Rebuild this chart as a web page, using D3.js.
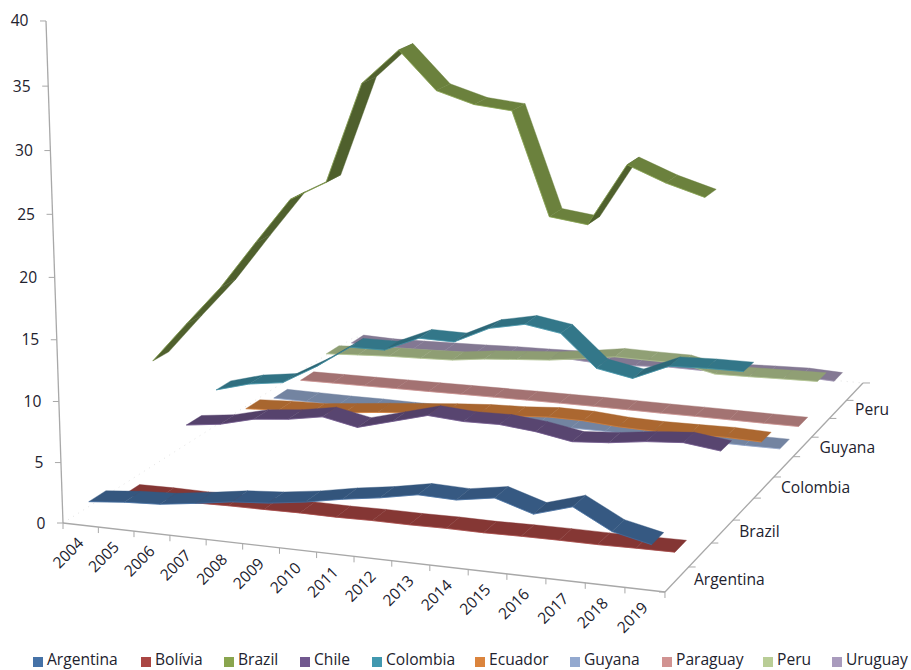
<!DOCTYPE html>
<html>
<head>
<meta charset="utf-8">
<script src="https://cdn.jsdelivr.net/npm/d3@7"></script>
<style>
html,body{margin:0;padding:0;background:#fff}
svg{display:block}
text{font-family:"Open Sans",sans-serif;fill:#22222e}
</style>
</head>
<body>
<svg id="chart" width="911" height="670"></svg>
<script>
const years = ["2004","2005","2006","2007","2008","2009","2010","2011","2012","2013","2014","2015","2016","2017","2018","2019"];
const countries = ["Argentina","Bolívia","Brazil","Chile","Colombia","Ecuador","Guyana","Paraguay","Peru","Uruguay"];
const depthLabels = ["Argentina","Brazil","Colombia","Guyana","Peru"];
const palette = ["#4572a7","#aa4643","#89a54e","#71588f","#4198af","#db843d","#93a9cf","#d19392","#b9cd96","#a99bbd"];

const argentina = [1.48,1.76,1.92,2.32,2.77,3.0,3.41,3.97,4.41,4.98,4.89,5.38,4.43,5.34,3.73,3.04];
const bolivia   = [0.20,0.24,0.22,0.29,0.31,0.35,0.33,0.38,0.37,0.41,0.39,0.44,0.46,0.45,0.50,0.53];
const brazil    = [9.9,13.3,16.6,20.5,24.3,25.9,34.0,36.8,33.8,32.9,32.6,24.5,24.1,29.0,27.8,26.9];
const chile     = [2.75,3.12,3.86,4.15,4.66,4.05,4.86,5.67,5.45,5.5,5.2,4.66,4.88,5.28,5.5,5.11];
const colombia  = [4.2,5.01,5.42,7.1,9.08,9.1,10.4,10.35,11.78,12.39,11.89,9.2,8.63,9.94,10.04,10.05];
const ecuador   = [0.87,1.03,1.1,1.39,1.71,1.98,2.26,2.47,2.58,2.79,2.76,2.53,2.45,2.48,2.53,2.42];
const guyana    = [0.20,0.18,0.15,0.17,0.14,0.16,0.13,0.15,0.12,0.14,0.13,0.11,0.12,0.13,0.10,0.10];
const paraguay  = [0.25,0.28,0.30,0.33,0.35,0.38,0.40,0.42,0.43,0.44,0.42,0.40,0.41,0.39,0.38,0.38];
const peru      = [1.19,1.36,1.51,1.59,1.7,2.07,2.31,2.53,2.93,3.39,3.34,3.32,2.63,2.68,2.75,2.81];
const uruguay   = [0.7,0.6,0.65,0.73,0.81,0.92,0.97,1.05,0.88,0.98,1.15,1.11,1.18,1.29,1.37,1.23];
const seriesValues = [argentina,bolivia,brazil,chile,colombia,ecuador,guyana,paraguay,peru,uruguay];

// Unit-cube coordinates: u runs along the years, v into the depth, h up the value axis.
const uScale = d3.scaleBand().domain(years).range([0,1]);
const vScale = d3.scaleBand().domain(countries).range([0,1]);
const hScale = d3.scaleLinear().domain([0,40]).range([0,1]);
const ribbonDepth = vScale.bandwidth()/2;

// Perspective camera expressed as a homogeneous 3x4 matrix.
const camera = {
  x:[559.4,365.7,-18.93,63],
  y:[31.1,-115.6,-502.9,523],
  w:[-0.064,0.209,-0.042,1]
};
function project(u,v,h){
  const w = camera.w[0]*u+camera.w[1]*v+camera.w[2]*h+camera.w[3];
  return [
    (camera.x[0]*u+camera.x[1]*v+camera.x[2]*h+camera.x[3])/w,
    (camera.y[0]*u+camera.y[1]*v+camera.y[2]*h+camera.y[3])/w
  ];
}

const svg = d3.select("#chart");
const linePath = d3.line();
const axisColor = "#a8a8a8";
const labelSize = 15.6;

const axes = svg.append("g").attr("fill","none").attr("stroke",axisColor);

// Faint floor outline on the far sides
axes.append("path")
  .attr("d",linePath([project(0,0,0),project(0,1,0),project(1,1,0)]))
  .attr("stroke","#e4e4e4").attr("stroke-dasharray","1 5");

// Value axis
axes.append("path").attr("stroke-width",1.3).attr("d",linePath([project(0,0,0),project(0,0,1)]));
hScale.ticks(8).forEach(t=>{
  const p = project(0,0,hScale(t));
  axes.append("path").attr("d",linePath([[p[0]-6,p[1]],p]));
  svg.append("text").attr("x",p[0]-17.5).attr("y",p[1]+5.5)
    .attr("text-anchor","end").attr("font-size",labelSize).text(t);
});

// Year axis along the front edge
axes.append("path").attr("stroke-width",1.3).attr("d",linePath([project(0,0,0),project(1,0,0)]));
const uEdges = years.map(y=>uScale(y)).concat([1]);
uEdges.forEach(u=>{
  const p = project(u,0,0);
  axes.append("path").attr("d",linePath([p,[p[0],p[1]+6]]));
});
years.forEach(y=>{
  const p = project(uScale(y)+uScale.bandwidth()/2,0,0);
  const tx = p[0]+4, ty = p[1]+19;
  svg.append("text").attr("transform",`translate(${tx},${ty}) rotate(-45)`)
    .attr("text-anchor","end").attr("font-size",labelSize).text(y);
});

// Depth axis along the right edge
axes.append("path").attr("stroke-width",1.3).attr("d",linePath([project(1,0,0),project(1,1,0)]));
const vEdges = countries.map(c=>vScale(c)).concat([1]);
vEdges.forEach(v=>{
  const p = project(1,v,0);
  axes.append("path").attr("d",linePath([p,[p[0]+(v===0?-6:7),p[1]]]));
});
depthLabels.forEach(c=>{
  const p = project(1,vScale(c)+vScale.bandwidth()/2,0);
  svg.append("text").attr("x",p[0]+17).attr("y",p[1]+6).attr("font-size",labelSize).text(c);
});

// Ribbons, far series first so nearer ones overlap them
const shade = (color,f)=>{
  const c = d3.rgb(color);
  return d3.rgb(c.r*f,c.g*f,c.b*f).formatHex();
};
const ribbons = svg.append("g");
d3.range(countries.length-1,-1,-1).forEach(i=>{
  const name = countries[i], vals = seriesValues[i], base = palette[i];
  const vc = vScale(name)+vScale.bandwidth()/2;
  const vFront = vc-ribbonDepth/2, vBack = vc+ribbonDepth/2;
  const uc = k=>uScale(years[k])+uScale.bandwidth()/2;
  const g = ribbons.append("g");
  d3.range(vals.length-1).forEach(k=>{
    const h0 = hScale(vals[k]), h1 = hScale(vals[k+1]);
    const quad = [project(uc(k),vFront,h0),project(uc(k+1),vFront,h1),
                  project(uc(k+1),vBack,h1),project(uc(k),vBack,h0)];
    const rise = Math.max(0,Math.min(1,(vals[k+1]-vals[k])/3));
    const fill = shade(base,0.78-0.2*rise);
    g.append("path").attr("d",linePath(quad)+"Z")
      .attr("fill",fill).attr("stroke",fill).attr("stroke-width",0.4);
  });
  // Thin lit rim on the near edge of the ribbon
  g.append("path")
    .attr("d",linePath(vals.map((d,k)=>project(uc(k),vFront,hScale(d)))))
    .attr("fill","none").attr("stroke",base).attr("stroke-width",0.9).attr("stroke-opacity",0.75);
});

// Legend entries along the bottom
const legendStarts = [33,141,224,300,372,475,570,662,763,832];
const legend = svg.append("g");
countries.forEach((c,i)=>{
  legend.append("rect").attr("x",legendStarts[i]).attr("y",657).attr("width",10).attr("height",10).attr("fill",palette[i]);
  legend.append("text").attr("x",legendStarts[i]+14).attr("y",665).attr("font-size",labelSize).text(c);
});
</script>
</body>
</html>
